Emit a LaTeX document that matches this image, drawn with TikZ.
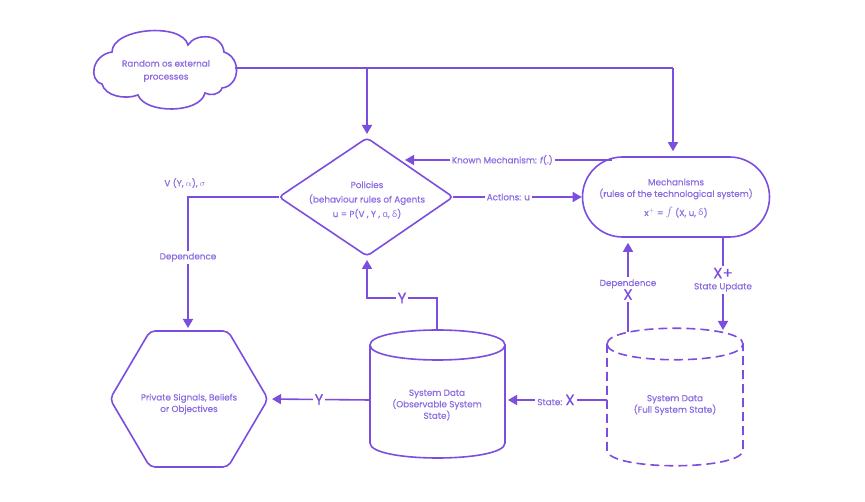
\documentclass[tikz,border=0pt]{standalone}
\usepackage{fontspec}
\setmainfont{Poppins}[FakeBold=0.5]
\newfontfamily\gk{Noto Sans}
\usetikzlibrary{arrows.meta,calc}
\definecolor{pline}{RGB}{124,78,224}
\definecolor{ptext}{RGB}{140,108,226}
\begin{document}
\begin{tikzpicture}[x=1pt,y=-1pt,
 edge/.style={draw=pline, line width=1.6pt},
 arr/.style={edge, -{Triangle[length=9pt,width=10pt]}},
 lbl/.style={text=ptext, font=\fontsize{8.8}{10}\selectfont, fill=white, inner sep=2pt},
 bigl/.style={text=pline, font=\fontsize{15}{15}\selectfont, fill=white, inner sep=2pt},
 body/.style={text=ptext, font=\fontsize{8.8}{11.5}\selectfont, align=center, inner sep=0pt},
 dsh/.style={edge, dash pattern=on 9pt off 5pt},
]
\useasboundingbox (0,0) rectangle (865,502);
\fill[white] (0,0) rectangle (865,502);

% cloud
\draw[edge] (102,84) .. controls (88,80) and (92,55) .. (112,52)
  .. controls (112,28) and (182,22) .. (188,45)
  .. controls (195,33) and (222,33) .. (224,52)
  .. controls (242,58) and (240,86) .. (222,88)
  .. controls (220,95) and (210,96) .. (205,93)
  .. controls (200,114) and (145,114) .. (138,95)
  .. controls (125,100) and (105,96) .. (102,84) -- cycle;
\node[body, font=\fontsize{8.8}{13}\selectfont] (cloud) at (166,71) {Random os external\\processes};
\coordinate (cloudR) at (235,68);
\coordinate (top1) at (367,68);
\coordinate (top2) at (673,68);

% policies diamond
\coordinate (polT) at (367,138);
\coordinate (polR) at (453,197);
\coordinate (polB) at (367,256);
\coordinate (polL) at (279,197);
\draw[edge, rounded corners=4pt] (polT) -- (polR) -- (polB) -- (polL) -- cycle;
\node[body, font=\fontsize{8.8}{14.5}\selectfont] (pol) at (367,200) {Policies\\(behaviour rules of Agents\\u = P(V , Y , {\gk α}, {\gk δ})};

% mechanisms
\node[edge, rounded corners=39.9pt, minimum width=187pt, minimum height=80pt] (mech) at (676,197) {};
\node[body] (mech1) at (676,182) {Mechanisms};
\node[body] (mech2) at (676,194) {(rules of the technological system)};
\node[body] (mech3) at (676,213) {x$^{+}$ = {\fontsize{12}{12}\selectfont$f$} (X, u, {\gk δ})};

% hexagon
\coordinate (hexT) at (188,331);
\coordinate (hexR) at (268,399);
\draw[edge, rounded corners=5pt] (110,399) -- (150,331) -- (228,331) -- (268,399) -- (228,467) -- (150,467) -- cycle;
\node[body] (hex) at (189,404) {Private Signals, Beliefs\\or Objectives};

% observable cylinder
\draw[edge] (370,345) .. controls (370,325) and (505,325) .. (505,345)
  .. controls (505,365) and (370,365) .. (370,345) -- cycle;
\draw[edge] (370,345) -- (370,443) .. controls (370,463) and (505,463) .. (505,443) -- (505,345);
\node[body] (obs) at (437,405) {System Data\\(Observable System\\State)};
\coordinate (obsT) at (437,330);
\coordinate (obsL) at (370,400);
\coordinate (obsR) at (505,400);

% full cylinder (dashed)
\draw[dsh] (607,344) .. controls (607,323) and (743,323) .. (743,344)
  .. controls (743,365) and (607,365) .. (607,344) -- cycle;
\draw[dsh] (607,344) -- (607,450) .. controls (607,471) and (743,471) .. (743,450) -- (743,344);
\node[body] (full) at (675,405) {System Data\\(Full System State)};
\coordinate (fullL) at (607,400);
\coordinate (fullT) at (628,332);
\coordinate (fullT2) at (723,331);

% connectors
\draw[edge] (cloudR) -- (top2);
\draw[arr, shorten >=5pt] (top2) -- (top2 |- mech.north);
\draw[arr, shorten >=4pt] (top1) -- (polT);

\coordinate (kmR) at (612,160);
\coordinate (kmL) at (405,160);
\draw[arr] (kmR) -- node[lbl, pos=0.53] {Known Mechanism: {\itshape f}(.)} (kmL);
\draw[arr] (polR) -- node[lbl, pos=0.43] {Actions: u} (mech.west);

\coordinate (lc) at (188,197);
\draw[arr, shorten >=3pt] (polL) -- (lc) -- node[lbl, pos=0.45] {Dependence} (hexT);
\node[lbl, fill=none] (vy) at (185,183) {V (Y, $\alpha$), $\sigma$};

\coordinate (c1) at (437,298);
\coordinate (c2) at (367,298);
\draw[arr, shorten >=4pt] (obsT) -- (c1) -- node[bigl] {Y} (c2) -- (polB);
\draw[arr, shorten >=4pt] (obsL) -- node[bigl] {Y} (hexR);
\draw[arr, shorten >=3pt] (fullL) -- node[lbl] {State: {\color{pline}\fontsize{15}{15}\selectfont X}} (obsR);

\draw[arr, shorten >=1pt] (mech.south -| fullT2) -- node[lbl, align=center, pos=0.45, font=\fontsize{8.8}{11}\selectfont] {{\color{pline}\fontsize{15}{15}\selectfont X+}\\State Update} (fullT2);
\draw[arr, shorten >=5pt] (fullT) -- node[lbl, align=center, pos=0.45, font=\fontsize{8.8}{11}\selectfont] {Dependence\\{\color{pline}\fontsize{15}{15}\selectfont X}} (fullT |- mech.south);
\end{tikzpicture}
\end{document}
